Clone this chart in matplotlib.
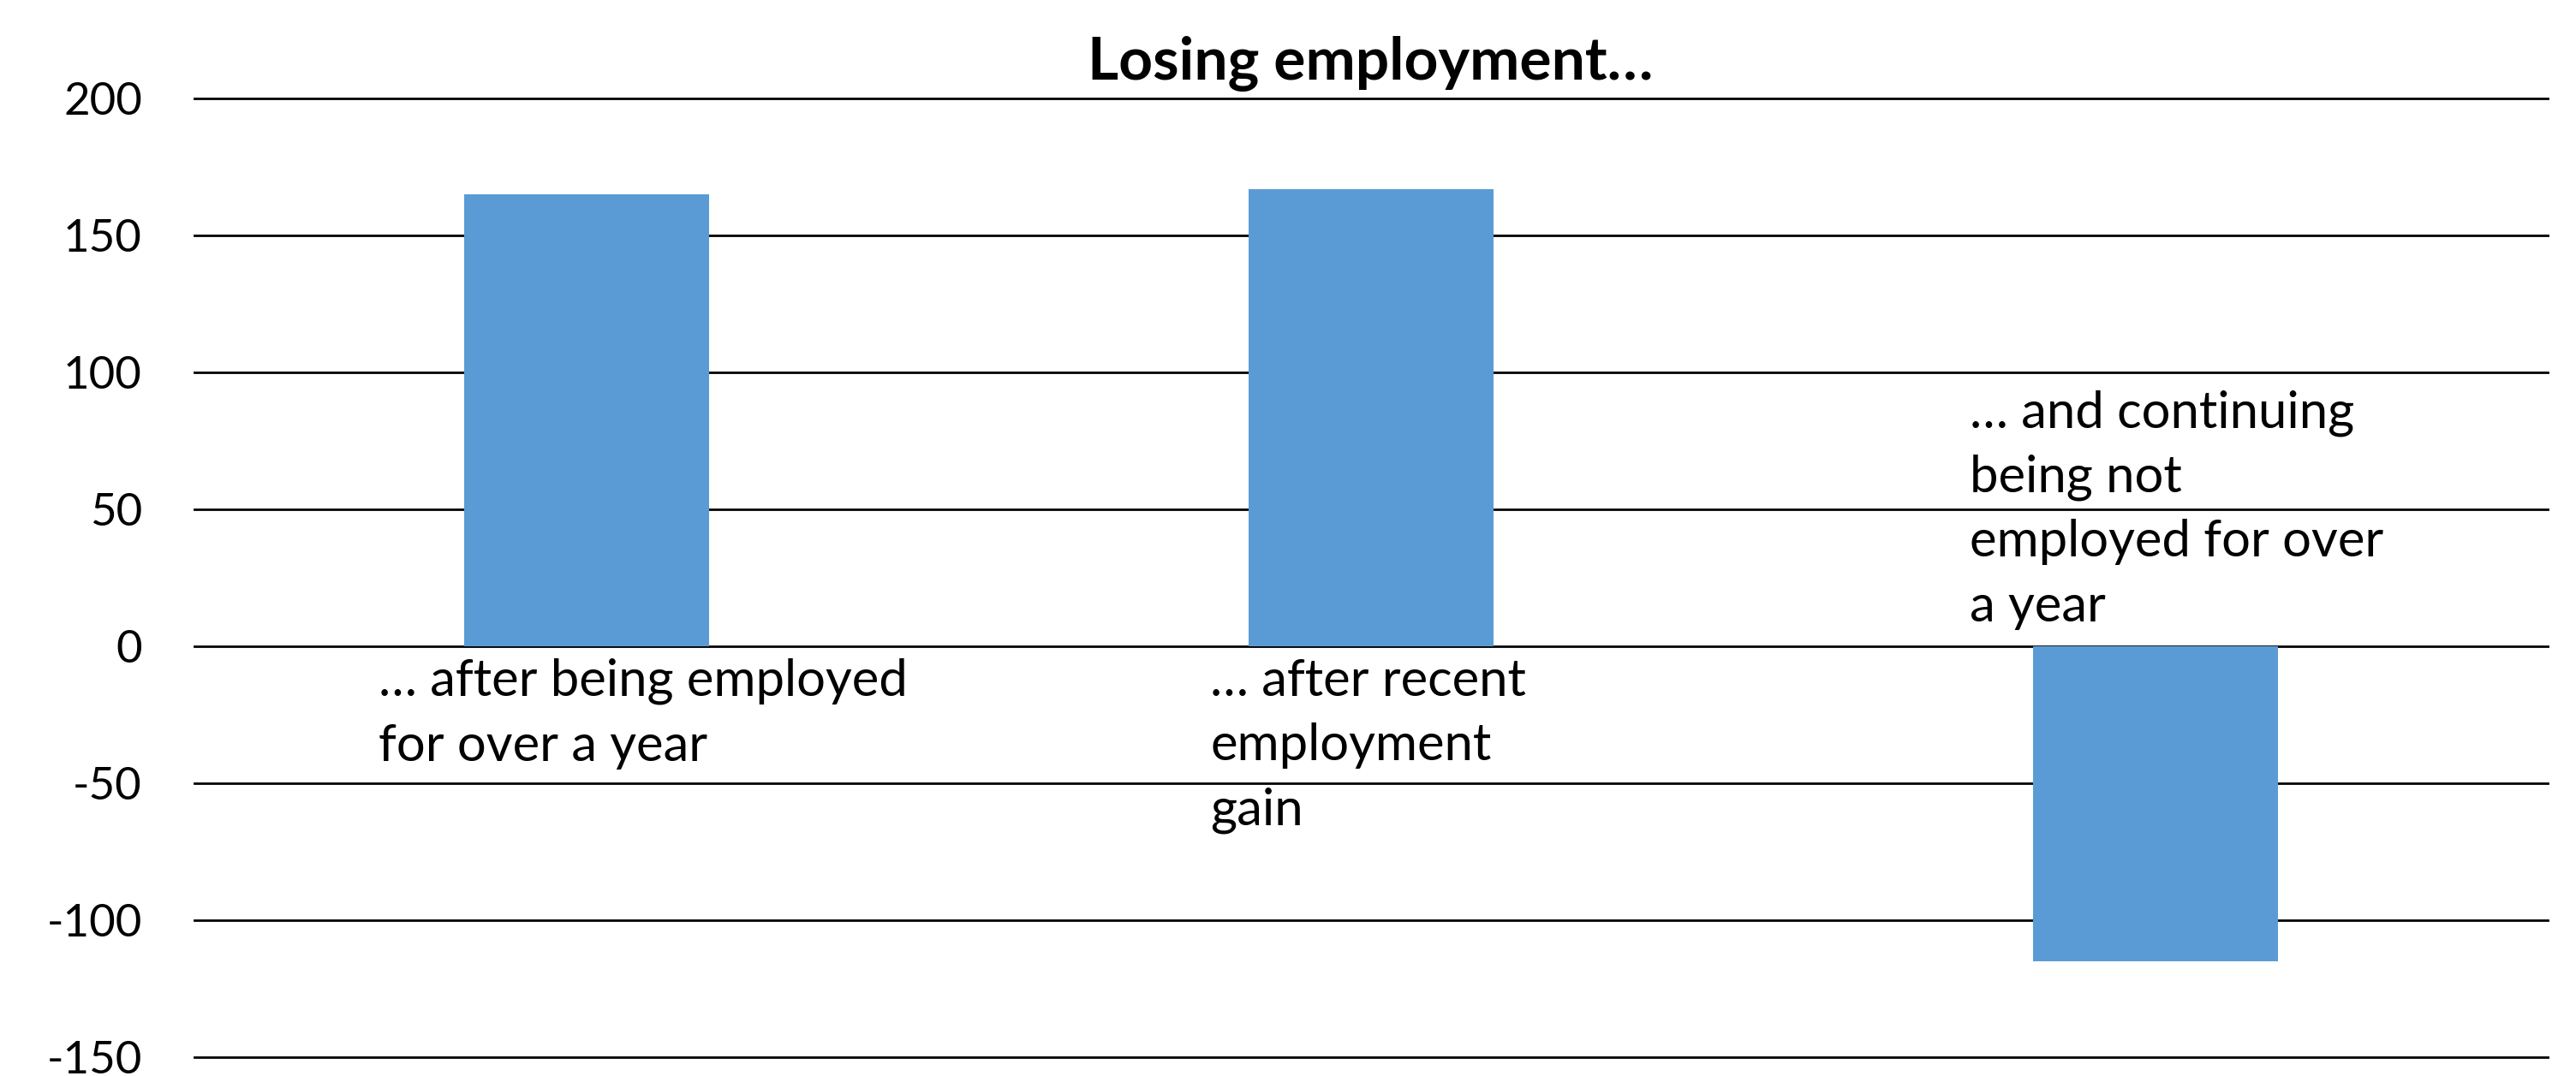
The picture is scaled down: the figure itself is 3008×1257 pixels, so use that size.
import matplotlib
matplotlib.use("Agg")
import matplotlib.pyplot as plt

# ---- data ----
categories = [
    "\u2026 after being employed\nfor over a year",
    "\u2026 after recent\nemployment\ngain",
    "\u2026 and continuing\nbeing not\nemployed for over\na year",
]
values = [165, 167, -115]
yticks = [-150, -100, -50, 0, 50, 100, 150, 200]
title = "Losing employment\u2026"

# ---- layout / style ----
label_left_offsets = [-0.265, -0.205, -0.237]   # left edge of label, in category units
bar_color = "#5B9BD5"
font = "Lato"

fig = plt.figure(figsize=(30.08, 12.57), dpi=100)
ax = fig.add_axes([227 / 3008, 1 - 1235 / 1257, (2975 - 227) / 3008, (1235 - 115) / 1257])

x = list(range(len(values)))
ax.bar(x, values, width=0.313, color=bar_color, zorder=3)

ax.set_xlim(-0.5, len(values) - 0.5)
ax.set_ylim(yticks[0], yticks[-1])
ax.set_yticks(yticks)
ax.set_yticklabels([str(v) for v in yticks], fontsize=38, family=font)
ax.set_xticks([])
ax.tick_params(axis="y", length=0, pad=44)
for s in ax.spines.values():
    s.set_visible(False)
ax.grid(axis="y", color="black", linewidth=2.0, zorder=1)
for gl in ax.get_ygridlines():
    gl.set_clip_on(False)

for i, (lab, v) in enumerate(zip(categories, values)):
    xi = i + label_left_offsets[i]
    if v >= 0:
        ax.annotate(lab, xy=(xi, 0), xytext=(0, -10), textcoords="offset points",
                    ha="left", va="top", fontsize=43, family=font,
                    linespacing=1.48, zorder=4)
    else:
        ax.annotate(lab, xy=(xi, 0), xytext=(0, 14), textcoords="offset points",
                    ha="left", va="bottom", fontsize=43, family=font,
                    linespacing=1.48, zorder=4)

fig.text(1600 / 3008, 1 - 93 / 1257, title, ha="center", va="baseline",
         fontsize=50, fontweight="bold", family=font)

fig.savefig("out.png", dpi=100, facecolor="white")
